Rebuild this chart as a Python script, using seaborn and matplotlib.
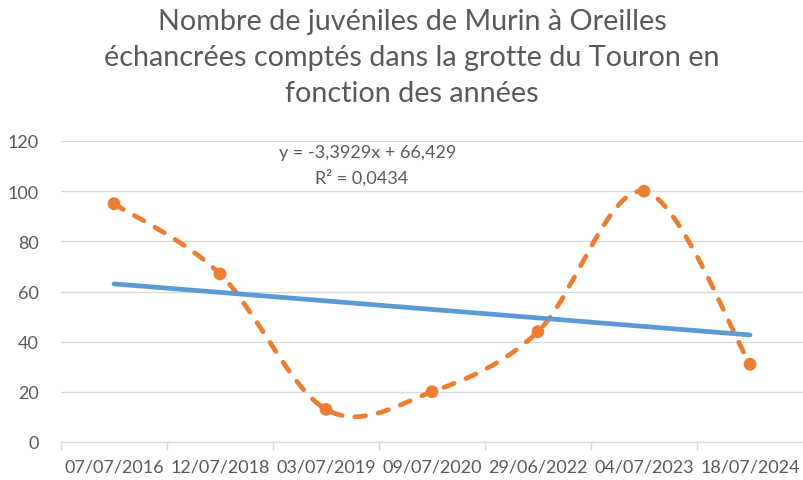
import numpy as np
import pandas as pd
import matplotlib
matplotlib.use("Agg")
import matplotlib.pyplot as plt
import seaborn as sns
from matplotlib.path import Path
from matplotlib.patches import PathPatch

# ---- data ----
dates = ["07/07/2016", "12/07/2018", "03/07/2019", "09/07/2020",
         "29/06/2022", "04/07/2023", "18/07/2024"]
juveniles = [95, 67, 13, 20, 44, 100, 31]
y_ticks = [0, 20, 40, 60, 80, 100, 120]
title = ("Nombre de juvéniles de Murin à Oreilles\n"
         "échancrées comptés dans la grotte du Touron en\n"
         "fonction des années")

ORANGE = "#ED7D31"
BLUE = "#5B9BD5"
GRID = "#D9D9D9"
TXT = "#595959"

sns.set_theme(style="white")
plt.rcParams['font.family'] = ['Lato', 'DejaVu Sans']

df = pd.DataFrame({"date": dates, "n": juveniles, "i": np.arange(len(dates))})

fig = plt.figure(figsize=(8.04, 4.81), dpi=100)
W, H = 804, 481
ax = fig.add_axes([61 / W, 1 - 443 / H, 742 / W, 301 / H])

# smoothed (Excel-like Bezier) dashed line through the points
xs = df["i"].to_numpy(dtype=float)
ys = df["n"].to_numpy(dtype=float)
pts = np.column_stack([xs, ys])
n = len(pts)
verts = [pts[0]]
codes = [Path.MOVETO]
for k in range(n - 1):
    p_prev = pts[k - 1] if k > 0 else pts[k]
    p0 = pts[k]
    p1 = pts[k + 1]
    p_next = pts[k + 2] if k + 2 < n else pts[k + 1]
    c1 = p0 + (p1 - p_prev) / 6.0
    c2 = p1 - (p_next - p0) / 6.0
    verts += [c1, c2, p1]
    codes += [Path.CURVE4] * 3
patch = PathPatch(Path(verts, codes), fill=False, edgecolor=ORANGE,
                  linewidth=3.4, linestyle=(0, (2.3, 2.7)), capstyle="round",
                  zorder=3)
ax.add_patch(patch)

sns.scatterplot(data=df, x="i", y="n", color=ORANGE, s=85, edgecolor="none",
                zorder=4, ax=ax, legend=False)

# linear trend line
sns.regplot(data=df, x="i", y="n", scatter=False, ci=None, truncate=True,
            color=BLUE, line_kws={"linewidth": 3.4, "zorder": 5,
                                  "solid_capstyle": "round"}, ax=ax)

slope, intercept = np.polyfit(xs + 1, ys, 1)
pred = slope * (xs + 1) + intercept
r2 = 1 - np.sum((ys - pred) ** 2) / np.sum((ys - ys.mean()) ** 2)
eq = f"y = {slope:.4f}x + {intercept:.3f}".replace(".", ",")
r2txt = f"R² = {r2:.4f}".replace(".", ",")

ax.set_xlim(-0.5, len(dates) - 0.5)
ax.set_ylim(0, 120)
ax.set_xticks(df["i"])
ax.set_xticklabels(dates)
ax.set_xticks(np.arange(-0.5, len(dates), 1), minor=True)
ax.set_yticks(y_ticks)
ax.set_xlabel("")
ax.set_ylabel("")

ax.tick_params(axis="x", which="major", length=0, pad=12, labelsize=13,
               labelcolor=TXT)
ax.tick_params(axis="x", which="minor", length=6, width=1, color=GRID,
               direction="out", bottom=True)
ax.tick_params(axis="y", length=0, pad=16, labelsize=13, labelcolor=TXT)

ax.yaxis.grid(True, color=GRID, linewidth=1)
ax.set_axisbelow(True)
for s in ["top", "right", "left"]:
    ax.spines[s].set_visible(False)
ax.spines["bottom"].set_color(GRID)
ax.spines["bottom"].set_linewidth(1)

fig.text(368 / W, 1 - 153 / H, eq, ha="center", va="center", fontsize=13,
         color=TXT)
fig.text(362 / W, 1 - 178 / H, r2txt, ha="center", va="center", fontsize=13,
         color=TXT)

fig.text(412 / W, 1 - 58 / H, title, ha="center", va="center", fontsize=20.7,
         color=TXT, linespacing=1.47)

fig.savefig("out.png", dpi=100)
